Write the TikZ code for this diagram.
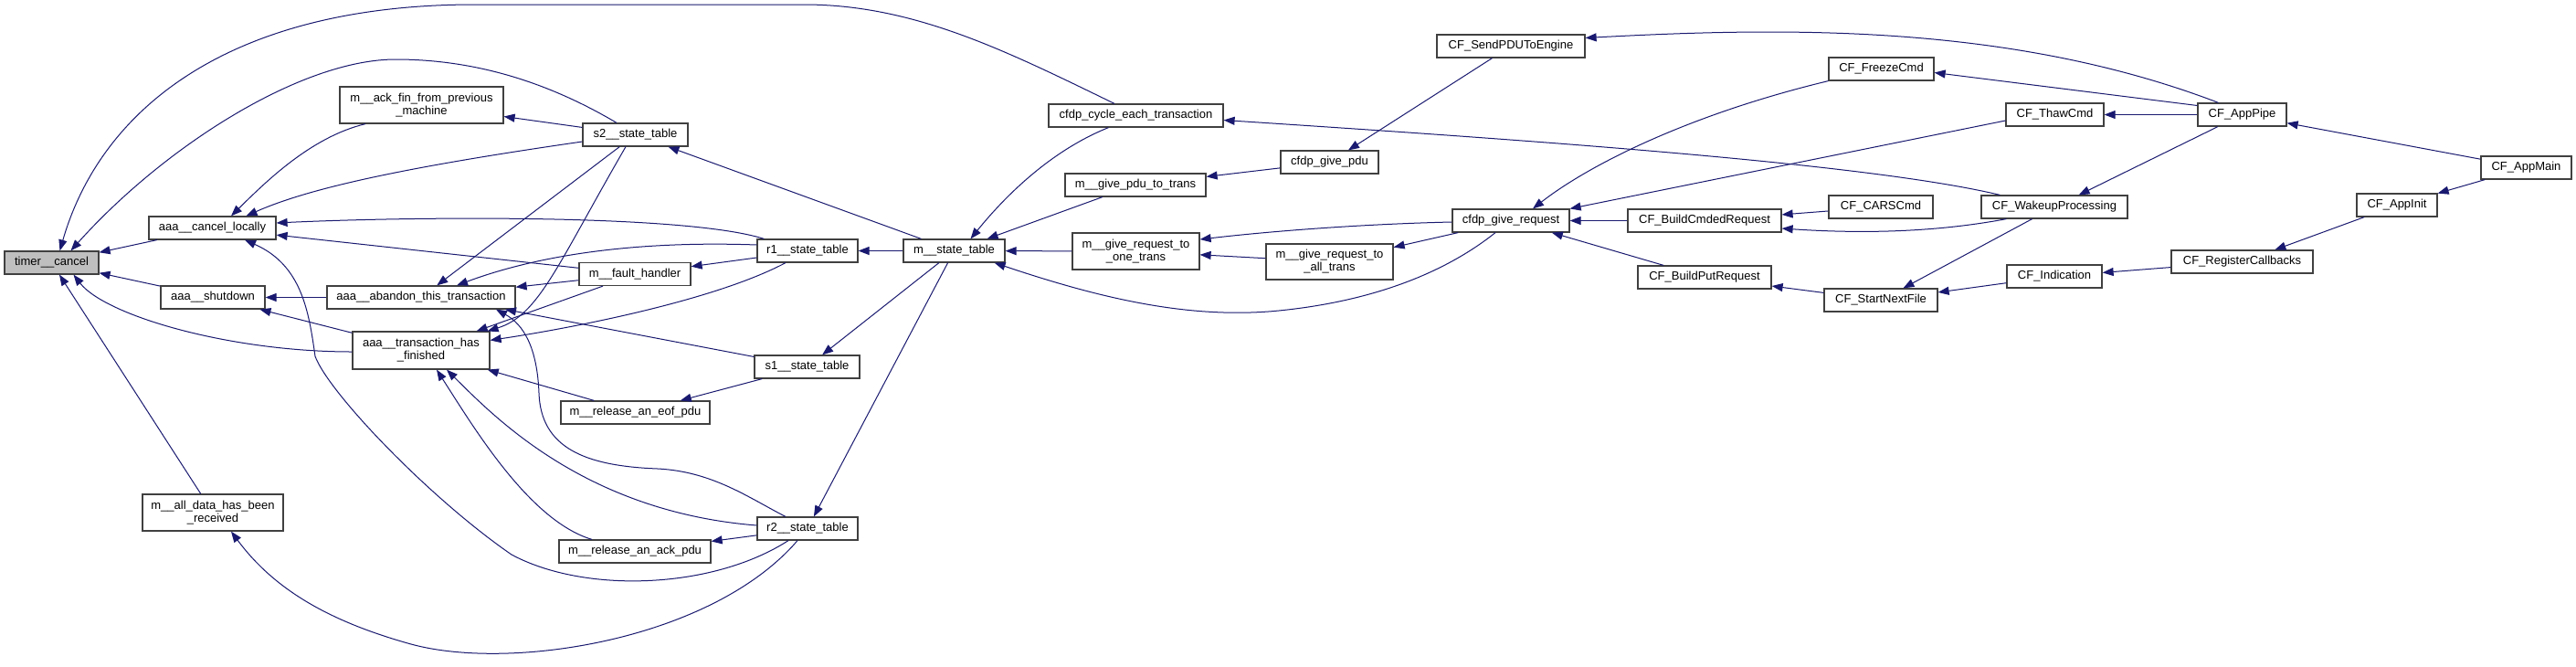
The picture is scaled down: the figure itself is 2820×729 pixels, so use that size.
\documentclass[tikz,border=0pt]{standalone}
\usepackage{fontspec}
\setmainfont{Liberation Sans}
\usetikzlibrary{arrows.meta}
\definecolor{edgeblue}{HTML}{191970}
\definecolor{boxline}{HTML}{404040}
\definecolor{rootfill}{HTML}{BFBFBF}
\tikzset{
  fn/.style={draw=boxline, line width=1.2pt, fill=white, inner sep=1pt,
    minimum height=25pt, align=center, font=\fontsize{13}{14}\selectfont},
  fntwo/.style={fn, minimum height=40pt},
  ed/.style={draw=edgeblue, line width=1pt, {Triangle[length=12pt,width=9pt]}-},
}
\begin{document}
\begin{tikzpicture}[x=1pt,y=-1pt]
\fill[white] (0,0) rectangle (2820,729);
\useasboundingbox (0,0) rectangle (2820,729);
% nodes
\node[fn, fill=rootfill, minimum width=103pt] (timer) at (56.5,287.5) {timer\_\_cancel};
\node[fn, minimum width=139pt] (cancel) at (232.5,249.5) {aaa\_\_cancel\_locally};
\node[fn, minimum width=114pt] (shutdown) at (233,325.5) {aaa\_\_shutdown};
\node[fntwo, minimum width=154pt] (alldata) at (233,561) {m\_\_all\_data\_has\_been\\\_received};
\node[fntwo, minimum width=179pt] (ackfin) at (461.5,115) {m\_\_ack\_fin\_from\_previous\\\_machine};
\node[fn, minimum width=206pt] (abandon) at (461,325.5) {aaa\_\_abandon\_this\_transaction};
\node[fntwo, minimum width=150pt, minimum height=41pt] (trans) at (461,383.5) {aaa\_\_transaction\_has\\\_finished};
\node[fn, minimum width=115pt] (s2) at (695.5,147.5) {s2\_\_state\_table};
\node[fn, minimum width=122pt] (fault) at (695,300) {m\_\_fault\_handler};
\node[fn, minimum width=163pt] (eof) at (695.5,451.5) {m\_\_release\_an\_eof\_pdu};
\node[fn, minimum width=166pt] (ack) at (695,603.5) {m\_\_release\_an\_ack\_pdu};
\node[fn, minimum width=110pt] (r1) at (884,274.5) {r1\_\_state\_table};
\node[fn, minimum width=115pt] (s1) at (883.5,401.5) {s1\_\_state\_table};
\node[fn, minimum width=110pt] (r2) at (884,578.5) {r2\_\_state\_table};
\node[fn, minimum width=111pt] (mstate) at (1044.5,274.5) {m\_\_state\_table};
\node[fn, minimum width=191pt] (cycle) at (1243.5,126.5) {cfdp\_cycle\_each\_transaction};
\node[fn, minimum width=154pt] (gpt) at (1243,202.5) {m\_\_give\_pdu\_to\_trans};
\node[fntwo, minimum width=139pt] (reqone) at (1243.5,275) {m\_\_give\_request\_to\\\_one\_trans};
\node[fn, minimum width=107pt] (givepdu) at (1455.5,177.5) {cfdp\_give\_pdu};
\node[fntwo, minimum width=139pt, minimum height=39pt] (reqall) at (1455.5,286.5) {m\_\_give\_request\_to\\\_all\_trans};
\node[fn, minimum width=162pt] (sendpdu) at (1654,50.5) {CF\_SendPDUToEngine};
\node[fn, minimum width=128pt] (givereq) at (1654,241.5) {cfdp\_give\_request};
\node[fn, minimum width=168pt] (buildcmd) at (1866,241.5) {CF\_BuildCmdedRequest};
\node[fn, minimum width=146pt] (buildput) at (1866,303.5) {CF\_BuildPutRequest};
\node[fn, minimum width=115pt] (freeze) at (2059.5,75.5) {CF\_FreezeCmd};
\node[fn, minimum width=114pt] (cars) at (2059,226.5) {CF\_CARSCmd};
\node[fn, minimum width=124pt] (startnext) at (2059,328.5) {CF\_StartNextFile};
\node[fn, minimum width=107pt] (thaw) at (2249.5,125.5) {CF\_ThawCmd};
\node[fn, minimum width=160pt] (wakeup) at (2249,226.5) {CF\_WakeupProcessing};
\node[fn, minimum width=104pt] (indication) at (2249,302.5) {CF\_Indication};
\node[fn, minimum width=97pt] (apppipe) at (2454.5,125.5) {CF\_AppPipe};
\node[fn, minimum width=155pt] (regcb) at (2454.5,286.5) {CF\_RegisterCallbacks};
\node[fn, minimum width=88pt] (appinit) at (2624,224.5) {CF\_AppInit};
\node[fn, minimum width=99pt] (appmain) at (2765.5,183.5) {CF\_AppMain};
% edges into timer__cancel
\draw[ed] (timer) -- (cancel);
\draw[ed] (timer) -- (shutdown);
\draw[ed] ([xshift=24pt]timer.south) .. controls (115,345) and (250,385) .. ([yshift=-1.5pt]trans.west);
\draw[ed] (timer) -- (alldata);
\draw[ed] ([xshift=9pt]timer.north) .. controls (110,120) and (250,5) .. (520,5) -- (880,5) .. controls (1000,5) and (1100,55) .. ([xshift=-23.5pt]cycle.north);
\draw[ed] ([xshift=21pt]timer.north) .. controls (180,160) and (330,65) .. (433,65) .. controls (520,65) and (600,90) .. ([xshift=-20.5pt]s2.north);
% edges into aaa__cancel_locally
\draw[ed] ([xshift=20.5pt]cancel.north) .. controls (290,200) and (340,150) .. ([xshift=-61.5pt]ackfin.south);
\draw[ed] ([xshift=37pt]cancel.north) .. controls (340,205) and (450,182) .. ([yshift=-7.5pt]s2.west);
\draw[ed] ([yshift=5.5pt]cancel.east) .. controls (450,237) and (750,234) .. ([xshift=8pt]r1.north west);
\draw[ed] (cancel) -- (fault);
\draw[ed] ([xshift=35.5pt]cancel.south) .. controls (330,290) and (338,340) .. (345,390) .. controls (360,430) and (470,545) .. (560,607) .. controls (640,650) and (780,645) .. ([xshift=-21pt]r2.south);
% edges into aaa__shutdown
\draw[ed] (shutdown) -- (abandon);
\draw[ed] (shutdown) -- (trans);
% edges into aaa__abandon_this_transaction
\draw[ed] (abandon) -- (s2);
\draw[ed] ([xshift=39pt]abandon.north) .. controls (560,290) and (660,262) .. ([yshift=6.5pt]r1.west);
\draw[ed] (abandon) -- (fault);
\draw[ed] ([xshift=92pt]abandon.south) -- (s1);
\draw[ed] ([xshift=82pt]abandon.south) .. controls (573,355) and (588,380) .. (590,430) .. controls (592,490) and (640,510) .. (720,513) .. controls (780,516) and (820,545) .. ([xshift=-24pt]r2.north);
% edges into aaa__transaction_has_finished
\draw[ed] ([xshift=-3pt]trans.north east) .. controls (590,345) and (610,290) .. ([xshift=-10.5pt]s2.south);
\draw[ed] ([xshift=-15pt]trans.north east) -- ([xshift=-35pt]fault.south);
\draw[ed] ([yshift=-10pt]trans.north east) .. controls (620,360) and (780,330) .. ([xshift=-24pt]r1.south);
\draw[ed] (trans) -- (eof);
\draw[ed] ([xshift=28pt]trans.south) .. controls (540,455) and (640,560) .. ([yshift=3.5pt]r2.west);
\draw[ed] ([xshift=17pt]trans.south) .. controls (520,470) and (580,570) .. ([xshift=-47pt]ack.north);
% middle columns
\draw[ed] (ackfin) -- (s2);
\draw[ed] (fault) -- (r1);
\draw[ed] (eof) -- (s1);
\draw[ed] (ack) -- (r2);
\draw[ed] ([xshift=20pt]alldata.south) .. controls (300,645) and (360,680) .. (450,705) .. controls (560,735) and (780,700) .. ([xshift=-11pt]r2.south);
\draw[ed] (s2) -- (mstate);
\draw[ed] (r1) -- (mstate);
\draw[ed] (s1) -- (mstate);
\draw[ed] (r2) -- (mstate);
\draw[ed] ([xshift=18pt]mstate.north) .. controls (1100,215) and (1150,165) .. ([xshift=-30pt]cycle.south);
\draw[ed] (mstate) -- (gpt);
\draw[ed] (mstate) -- (reqone);
\draw[ed] ([xshift=-12pt]mstate.south east) .. controls (1200,325) and (1300,350) .. (1400,340) .. controls (1500,330) and (1580,300) .. ([xshift=-17pt]givereq.south);
\draw[ed] ([yshift=-5pt]cycle.east) .. controls (1700,155) and (2050,180) .. ([xshift=21pt]wakeup.north west);
\draw[ed] (gpt) -- (givepdu);
\draw[ed] ([yshift=13pt]reqone.east) .. controls (1400,252) and (1500,245) .. ([yshift=-1.5pt]givereq.west);
\draw[ed] (reqone) -- (reqall);
\draw[ed] (reqall) -- (givereq);
\draw[ed] (givepdu) -- (sendpdu);
% right part
\draw[ed] ([xshift=24pt]givereq.north) .. controls (1740,180) and (1850,125) .. (freeze.south west);
\draw[ed] (givereq.north east) -- ([yshift=-6.5pt]thaw.west);
\draw[ed] (givereq) -- (buildcmd);
\draw[ed] (givereq) -- (buildput);
\draw[ed] (buildcmd) -- (cars);
\draw[ed] ([yshift=-8.5pt]buildcmd.east) .. controls (2040,256) and (2120,254) .. ([xshift=28pt]wakeup.south west);
\draw[ed] (buildput) -- (startnext);
\draw[ed] ([yshift=9pt]sendpdu.east) .. controls (1950,30) and (2200,25) .. ([xshift=-26pt]apppipe.north);
\draw[ed] ([yshift=-4pt]freeze.east) -- ([yshift=10pt]apppipe.west);
\draw[ed] (thaw) -- (apppipe);
\draw[ed] (wakeup) -- (apppipe);
\draw[ed] (startnext) -- (wakeup);
\draw[ed] (startnext) -- (indication);
\draw[ed] (indication) -- (regcb);
\draw[ed] (apppipe) -- (appmain);
\draw[ed] (appinit) -- (appmain);
\draw[ed] (regcb) -- (appinit);
\end{tikzpicture}
\end{document}
